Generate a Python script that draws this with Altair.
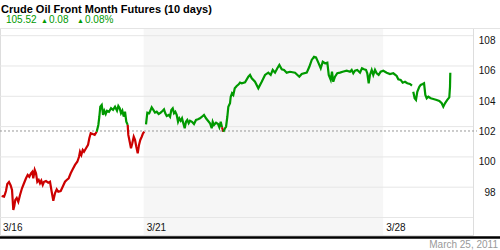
import altair as alt
import pandas as pd

# ---- data (trading-day index since 3/16 open, price in $) ----
T = [0.035, 0.084, 0.104, 0.125, 0.152, 0.188, 0.223, 0.251, 0.278, 0.299, 0.319, 0.349, 0.382, 0.418, 0.459,
     0.501, 0.543, 0.578, 0.612, 0.647, 0.674, 0.695, 0.725, 0.752, 0.779, 0.808, 0.835, 0.862, 0.892, 0.919,
     0.960, 1.008, 1.044, 1.079, 1.113, 1.148, 1.184, 1.217, 1.267, 1.309, 1.357, 1.393, 1.434, 1.476, 1.518,
     1.566, 1.614, 1.650, 1.670, 1.698, 1.727, 1.754, 1.796, 1.838, 1.865, 1.894, 1.936, 1.977, 2.019, 2.053,
     2.074, 2.094, 2.124, 2.151, 2.178, 2.207, 2.234, 2.276, 2.318, 2.360, 2.402, 2.443, 2.470, 2.499, 2.526,
     2.554, 2.583, 2.610, 2.637, 2.666, 2.679, 2.708, 2.735, 2.762, 2.792, 2.819, 2.846, 2.875, 2.902, 2.929,
     2.959, 2.986, 3.013, 3.048, 3.076, 3.117, 3.167, 3.201, 3.236, 3.272, 3.313, 3.355, 3.397, 3.424, 3.451,
     3.481, 3.522, 3.550, 3.577, 3.606, 3.633, 3.660, 3.689, 3.717, 3.744, 3.773, 3.800, 3.827, 3.856, 3.883,
     3.910, 3.939, 3.967, 4.008, 4.050, 4.092, 4.134, 4.175, 4.217, 4.259, 4.301, 4.342, 4.384, 4.420, 4.441,
     4.468, 4.510, 4.552, 4.579, 4.608, 4.635, 4.662, 4.698, 4.719, 4.746, 4.767, 4.802, 4.817, 4.844, 4.871,
     4.901, 4.942, 4.984, 5.011, 5.047, 5.116, 5.185, 5.220, 5.256, 5.324, 5.393, 5.464, 5.533, 5.602, 5.652,
     5.694, 5.742, 5.790, 5.832, 5.882, 5.930, 5.986, 6.055, 6.160, 6.249, 6.299, 6.404, 6.458, 6.508, 6.556,
     6.597, 6.646, 6.696, 6.738, 6.785, 6.834, 6.863, 6.905, 6.931, 6.958, 6.994, 7.042, 7.098, 7.154, 7.238,
     7.307, 7.342, 7.376, 7.411, 7.459, 7.516, 7.557, 7.599, 7.641, 7.668, 7.697, 7.724, 7.760, 7.793, 7.829,
     7.864, 7.906, 7.948, 8.002, 8.073, 8.142, 8.211, 8.282, 8.315, 8.365, 8.407, 8.455, 8.503, 8.559, 8.601,
     8.628, 8.657, 8.685, 8.712, 8.754, 8.783, 8.825, 8.853, 8.880, 8.909, 8.943, 8.993, 9.047, 9.117, 9.172,
     9.222, 9.255, 9.290, 9.338, 9.380, 9.395, 9.401]
PRICE = [97.42, 97.37, 97.55, 97.75, 98.21, 98.34, 98.12, 97.82, 96.50, 96.76, 97.16, 97.29, 97.04, 97.49, 97.93,
         98.26, 98.59, 98.81, 98.69, 98.92, 99.02, 98.59, 99.14, 98.92, 98.36, 98.48, 98.26, 98.43, 98.15, 98.36,
         98.41, 98.30, 98.36, 97.70, 97.11, 97.60, 97.86, 97.70, 97.75, 98.03, 98.36, 98.48, 98.59, 98.92, 99.18,
         99.47, 99.68, 100.01, 100.34, 100.13, 100.46, 100.34, 100.57, 100.79, 101.23, 101.56, 101.51, 101.45, 101.66, 102.11,
         102.65, 103.31, 103.43, 102.77, 103.05, 102.83, 103.05, 102.98, 103.21, 103.10, 103.31, 103.05, 103.36, 103.21, 102.88,
         103.05, 102.66, 102.98, 102.32, 102.11, 101.45, 101.00, 100.57, 100.90, 101.33, 101.12, 100.67, 100.24, 100.79, 101.12,
         101.33, 101.56, 101.66, 102.15, 102.92, 102.88, 103.27, 103.10, 102.92, 102.98, 102.83, 102.92, 103.05, 103.14, 102.88,
         102.70, 102.77, 102.65, 103.10, 103.21, 102.88, 102.98, 102.77, 102.32, 102.55, 102.39, 102.55, 102.22, 101.89, 102.32,
         102.44, 102.22, 102.39, 102.32, 102.17, 102.44, 102.48, 102.55, 102.65, 102.77, 102.55, 102.39, 102.22, 101.89, 102.32,
         102.11, 102.26, 102.17, 101.96, 102.32, 101.96, 101.66, 101.89, 101.99, 102.65, 103.31, 103.54, 103.97, 104.20, 104.09,
         104.53, 104.68, 104.79, 104.90, 104.86, 104.92, 105.29, 105.41, 105.19, 104.96, 104.53, 104.96, 105.41, 105.56, 105.41,
         105.74, 105.56, 105.85, 106.07, 105.78, 105.74, 105.56, 105.62, 105.56, 105.29, 105.47, 105.56, 105.95, 106.40, 106.61,
         106.57, 106.22, 105.85, 106.28, 106.18, 106.22, 105.41, 105.08, 105.62, 104.96, 105.29, 105.52, 105.56, 105.62, 105.69,
         105.62, 105.74, 105.52, 105.69, 105.74, 105.56, 105.85, 105.78, 105.74, 105.52, 104.86, 105.41, 105.74, 105.41, 105.74,
         105.52, 105.41, 105.62, 105.69, 105.56, 105.47, 105.52, 105.34, 105.12, 105.08, 104.90, 104.96, 104.86, 104.81, 104.70,
         104.30, 103.87, 103.76, 104.30, 104.63, 104.75, 104.81, 104.86, 104.09, 103.87, 103.97, 103.87, 103.82, 103.76, 103.69,
         103.54, 103.31, 103.54, 103.76, 103.93, 104.63, 105.55]
GAPS_AFTER = [3.013, 8.601]          # trading pauses: the line breaks after these times
PREV_CLOSE = 101.71
GRID_VALUES = [96, 98, 100, 102, 104, 106, 108]
TICK_POS = [0, 3, 8]
TICK_LABELS = ["3/16", "3/21", "3/28"]
WEEK_START, WEEK_END = 3, 8
TITLE = "Crude Oil Front Month Futures (10 days)"
LAST, CHG, PCT = "105.52", "0.08", "0.08%"
DATE_TEXT = "March 25, 2011"

RED, GREEN = "#cc0000", "#009900"
FONT = "Liberation Sans"

# split the series into coloured runs (above / below previous close) and at trading pauses
rows = []
seg = 0
prev = None
for i, (t, p) in enumerate(zip(T, PRICE)):
    above = p >= PREV_CLOSE
    col = GREEN if above else RED
    if i > 0 and T[i - 1] in GAPS_AFTER:
        seg += 1
    elif prev is not None and above != prev:
        seg += 1
        rows.append(dict(t=T[i - 1], p=PRICE[i - 1], seg=seg, c=col))
    rows.append(dict(t=t, p=p, seg=seg, c=col))
    prev = above
line_df = pd.DataFrame(rows)

W, H = 473, 207
xs = alt.Scale(domain=[0, 9.875], nice=False, zero=False)
ys = alt.Scale(domain=[94.845, 108.508], nice=False, zero=False)

shade = alt.Chart(pd.DataFrame({"a": [WEEK_START], "b": [WEEK_END]})).mark_rect(color="#f6f6f6").encode(
    x=alt.X("a:Q", scale=xs, axis=None), x2="b:Q", y=alt.value(1), y2=alt.value(H)
)

grid = alt.Chart(pd.DataFrame({"v": GRID_VALUES})).mark_rule(color="#e6e6e6", strokeWidth=1).encode(
    y=alt.Y("v:Q", scale=ys,
            axis=alt.Axis(orient="right", values=GRID_VALUES[1:], grid=False, domain=False, ticks=False,
                          tickSize=0, labelPadding=22, labelAlign="right", labelOffset=5,
                          labelFontSize=10, labelFont=FONT, labelColor="#111", title=None))
)

ref = alt.Chart(pd.DataFrame({"v": [PREV_CLOSE]})).mark_rule(color="#999999", strokeDash=[2, 2], strokeWidth=1).encode(
    y=alt.Y("v:Q", scale=ys), x=alt.value(0), x2=alt.value(477)
)

line = alt.Chart(line_df).mark_line(strokeWidth=2.2).encode(
    x=alt.X("t:Q", scale=xs, axis=None),
    y=alt.Y("p:Q", scale=ys),
    color=alt.Color("c:N", scale=None),
    detail="seg:N",
    order="t:Q",
)

xlab = alt.Chart(pd.DataFrame({"t": TICK_POS, "lab": TICK_LABELS})).mark_text(
    align="left", baseline="middle", dx=3, fontSize=10, font=FONT, color="#111"
).encode(x=alt.X("t:Q", scale=xs), y=alt.value(199.5), text="lab:N")

top_rule = alt.Chart(pd.DataFrame({"k": [0]})).mark_rule(color="#e4e4e4", strokeWidth=1).encode(
    x=alt.value(0), x2=alt.value(500), y=alt.value(0.5)
)
bottom_rule = alt.Chart(pd.DataFrame({"k": [0]})).mark_rule(color="#000000", strokeWidth=2.5).encode(
    x=alt.value(0), x2=alt.value(500), y=alt.value(209.5)
)

def txt(s, x, y, size=10, color="#000", weight="normal", align="left"):
    return alt.Chart(pd.DataFrame({"s": [s]})).mark_text(
        align=align, baseline="alphabetic", fontSize=size, font=FONT, color=color, fontWeight=weight
    ).encode(x=alt.value(x), y=alt.value(y), text="s:N")

header = [
    txt(TITLE, 1, -15, size=11, weight="bold"),
    txt(LAST, 6, -5, color=GREEN),
    txt("▲", 41, -5.5, size=7, color=GREEN),
    txt(CHG, 49, -5, color=GREEN),
    txt("▲", 77, -5.5, size=7, color=GREEN),
    txt(PCT, 85, -5, color=GREEN),
    txt(DATE_TEXT, 498, 220, color="#999999", align="right"),
]

chart = alt.layer(shade, grid, ref, line, xlab, top_rule, bottom_rule, *header).properties(
    width=W, height=H,
    padding={"left": 0, "top": 28, "right": 27, "bottom": 15},
    autosize=alt.AutoSizeParams(type="none"),
).configure_view(strokeWidth=0).configure(background="white")

chart.save("out.html", embed_options={"renderer": "svg", "actions": False})
